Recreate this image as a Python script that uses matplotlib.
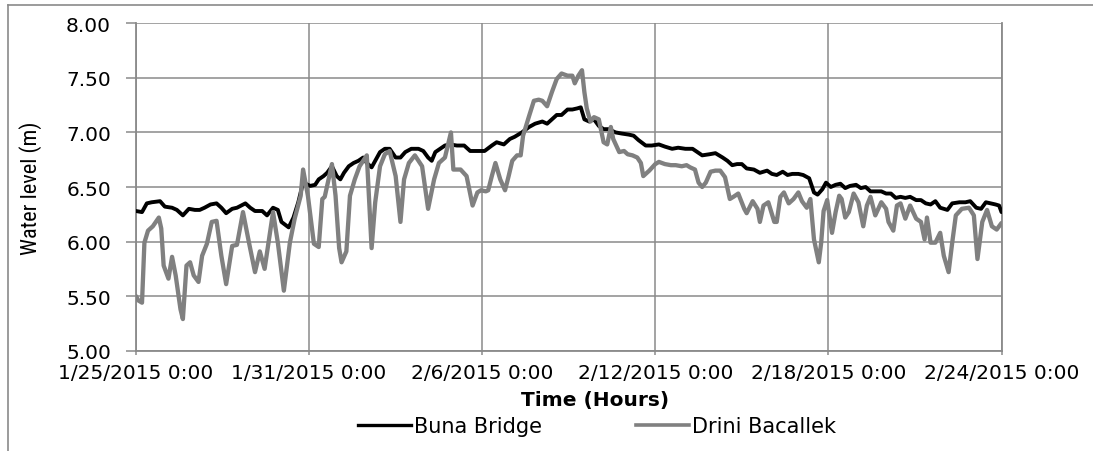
import matplotlib
matplotlib.use("Agg")
import matplotlib.pyplot as plt
from matplotlib.lines import Line2D
from matplotlib import font_manager
import pandas as pd

# ---------------- data ----------------
start_time = "2015-01-25 00:00"

buna_hours = [0, 5, 9, 13, 20, 24, 30, 34, 39, 44, 49, 53, 57, 62, 67, 71, 75, 80, 84, 91,
              95, 99, 105, 109, 114, 118, 121, 127, 131, 135, 139, 145, 149, 152, 156, 159,
              163, 167, 170, 173, 177, 181, 185, 189, 192, 196, 199, 203, 207, 211, 216,
              220, 224, 229, 235, 239, 243, 246, 249, 253, 257, 261, 267, 273, 278, 284,
              290, 296, 300, 306, 311, 315, 321, 327, 332, 338, 342, 346, 350, 354, 359,
              363, 367, 370, 373, 377, 381, 385, 389, 393, 399, 404, 410, 414, 418, 424,
              429, 435, 440, 446, 451, 457, 463, 467, 471, 477, 482, 488, 492, 496, 500,
              504, 508, 514, 519, 525, 529, 533, 538, 542, 546, 551, 555, 560, 564, 567,
              571, 574, 578, 582, 586, 590, 594, 599, 603, 607, 611, 615, 620, 624, 628,
              632, 636, 640, 644, 649, 653, 657, 661, 665, 669, 675, 679, 685, 690, 694,
              699, 703, 707, 711, 715, 718, 720]
buna_level = [6.28, 6.27, 6.35, 6.36, 6.37, 6.32, 6.31, 6.29, 6.24, 6.30, 6.29, 6.29, 6.31,
              6.34, 6.35, 6.31, 6.26, 6.30, 6.31, 6.35, 6.31, 6.28, 6.28, 6.24, 6.31, 6.29,
              6.18, 6.13, 6.22, 6.36, 6.54, 6.51, 6.52, 6.57, 6.60, 6.63, 6.69, 6.60, 6.57,
              6.63, 6.69, 6.72, 6.74, 6.77, 6.72, 6.68, 6.74, 6.82, 6.85, 6.85, 6.77, 6.77,
              6.82, 6.85, 6.85, 6.83, 6.77, 6.74, 6.82, 6.85, 6.88, 6.89, 6.88, 6.88, 6.83,
              6.83, 6.83, 6.88, 6.91, 6.89, 6.94, 6.96, 7.00, 7.05, 7.08, 7.10, 7.08, 7.12,
              7.16, 7.16, 7.21, 7.21, 7.22, 7.23, 7.12, 7.10, 7.12, 7.06, 7.03, 7.03, 7.00,
              6.99, 6.98, 6.97, 6.93, 6.88, 6.88, 6.89, 6.87, 6.85, 6.86, 6.85, 6.85, 6.82,
              6.79, 6.80, 6.81, 6.77, 6.74, 6.70, 6.71, 6.71, 6.67, 6.66, 6.63, 6.65, 6.62,
              6.61, 6.64, 6.61, 6.62, 6.62, 6.61, 6.58, 6.45, 6.43, 6.48, 6.54, 6.50, 6.52,
              6.53, 6.49, 6.51, 6.52, 6.49, 6.50, 6.46, 6.46, 6.46, 6.44, 6.44, 6.40, 6.41,
              6.40, 6.41, 6.38, 6.38, 6.35, 6.34, 6.37, 6.31, 6.29, 6.35, 6.36, 6.36, 6.37,
              6.31, 6.30, 6.36, 6.35, 6.34, 6.33, 6.27]

drini_hours = [0, 2, 5, 7, 10, 14, 19, 21, 23, 27, 30, 33, 37, 39, 42, 45, 48, 52, 55, 59,
               63, 67, 71, 75, 80, 84, 89, 94, 99, 103, 107, 112, 114, 118, 123, 128, 132,
               137, 139, 143, 148, 152, 155, 157, 163, 166, 169, 171, 175, 178, 182, 186,
               192, 196, 199, 203, 207, 211, 216, 220, 223, 227, 232, 238, 243, 248, 252,
               257, 262, 264, 270, 275, 280, 284, 287, 291, 293, 296, 299, 303, 307, 310,
               313, 317, 320, 322, 327, 331, 335, 338, 342, 346, 350, 354, 359, 363, 365,
               368, 371, 373, 375, 378, 381, 385, 389, 392, 395, 397, 402, 406, 409, 413,
               417, 420, 422, 427, 432, 435, 440, 445, 449, 454, 458, 461, 465, 468, 471,
               474, 478, 482, 486, 490, 494, 497, 501, 506, 508, 513, 517, 519, 522, 526,
               531, 533, 536, 539, 543, 547, 551, 554, 558, 561, 564, 568, 570, 572, 575,
               579, 582, 585, 587, 590, 593, 597, 601, 605, 608, 611, 615, 620, 624, 626,
               630, 633, 636, 640, 644, 649, 653, 656, 658, 661, 665, 669, 672, 676, 679,
               682, 687, 693, 697, 700, 704, 708, 712, 716, 720]
drini_level = [5.50, 5.46, 5.44, 5.99, 6.10, 6.14, 6.22, 6.12, 5.78, 5.66, 5.86, 5.69, 5.38,
               5.29, 5.78, 5.81, 5.69, 5.63, 5.87, 5.98, 6.18, 6.19, 5.87, 5.61, 5.96, 5.97,
               6.27, 5.99, 5.72, 5.91, 5.75, 6.12, 6.27, 5.99, 5.55, 5.99, 6.21, 6.42, 6.66,
               6.42, 5.98, 5.95, 6.39, 6.41, 6.71, 6.42, 5.94, 5.81, 5.91, 6.42, 6.57, 6.69,
               6.79, 5.94, 6.36, 6.69, 6.80, 6.83, 6.60, 6.18, 6.57, 6.72, 6.79, 6.69, 6.30,
               6.57, 6.72, 6.77, 7.00, 6.66, 6.66, 6.60, 6.33, 6.45, 6.47, 6.46, 6.47, 6.60,
               6.72, 6.57, 6.47, 6.60, 6.74, 6.79, 6.79, 6.97, 7.15, 7.29, 7.30, 7.29, 7.24,
               7.37, 7.49, 7.54, 7.52, 7.52, 7.45, 7.52, 7.57, 7.37, 7.22, 7.10, 7.14, 7.12,
               6.91, 6.89, 7.05, 6.94, 6.82, 6.83, 6.80, 6.79, 6.77, 6.72, 6.60, 6.65, 6.71,
               6.73, 6.71, 6.70, 6.70, 6.69, 6.70, 6.68, 6.66, 6.54, 6.50, 6.54, 6.64, 6.65,
               6.65, 6.59, 6.39, 6.41, 6.44, 6.30, 6.26, 6.37, 6.30, 6.18, 6.33, 6.36, 6.18,
               6.18, 6.41, 6.45, 6.35, 6.39, 6.45, 6.37, 6.31, 6.39, 6.02, 5.81, 5.99, 6.28,
               6.38, 6.08, 6.27, 6.42, 6.39, 6.22, 6.27, 6.44, 6.36, 6.14, 6.33, 6.41, 6.24,
               6.36, 6.30, 6.18, 6.10, 6.33, 6.35, 6.21, 6.33, 6.21, 6.18, 6.02, 6.22, 5.99,
               5.99, 6.08, 5.87, 5.72, 5.99, 6.24, 6.30, 6.31, 6.24, 5.84, 6.18, 6.29, 6.14,
               6.11, 6.17]

series_names = ["Buna Bridge", "Drini Bacallek"]
x_tick_dates = ["2015-01-25", "2015-01-31", "2015-02-06", "2015-02-12", "2015-02-18", "2015-02-24"]
x_tick_labels = ["1/25/2015 0:00", "1/31/2015 0:00", "2/6/2015 0:00",
                 "2/12/2015 0:00", "2/18/2015 0:00", "2/24/2015 0:00"]
y_ticks = [5.00, 5.50, 6.00, 6.50, 7.00, 7.50, 8.00]
x_title = "Time (Hours)"
y_title = "Water level (m)"

# ---------------- figure ----------------
W, H = 1093, 452
fig = plt.figure(figsize=(W / 100, H / 100), dpi=100)
fig.patch.set_facecolor("white")

L, R, T, B = 136, 1001.5, 24.3, 351.7
ax = fig.add_axes([L / W, 1 - B / H, (R - L) / W, (B - T) / H])

t0 = pd.Timestamp(start_time)
buna_t = t0 + pd.to_timedelta(buna_hours, unit="h")
drini_t = t0 + pd.to_timedelta(drini_hours, unit="h")

grid_col = "#8a8a8a"
ax.plot(buna_t, buna_level, color="black", lw=2.8, solid_joinstyle="round",
        solid_capstyle="round", zorder=3, label=series_names[0])
ax.plot(drini_t, drini_level, color="#808080", lw=3.1, solid_joinstyle="round",
        solid_capstyle="round", zorder=4, label=series_names[1])

ax.set_xlim(pd.Timestamp(x_tick_dates[0]), pd.Timestamp(x_tick_dates[-1]))
ax.set_ylim(y_ticks[0], y_ticks[-1])
ax.set_xticks([pd.Timestamp(d) for d in x_tick_dates])
ax.set_xticklabels(x_tick_labels)
ax.set_yticks(y_ticks)
ax.set_yticklabels([f"{v:.2f}" for v in y_ticks])

ax.grid(True, color=grid_col, lw=1.1)
ax.set_axisbelow(True)
ax.spines["top"].set_visible(False)
for s in ["left", "bottom", "right"]:
    ax.spines[s].set_color(grid_col)
    ax.spines[s].set_linewidth(1.3)

ax.tick_params(axis="y", length=7, width=1.1, color=grid_col, pad=11, labelsize=14.5)
ax.tick_params(axis="x", length=3, width=1.1, color=grid_col, pad=6, labelsize=14.5)
for lab in ax.get_xticklabels() + ax.get_yticklabels():
    lab.set_family("DejaVu Sans")


def pick(fams):
    for f in fams:
        try:
            font_manager.findfont(f, fallback_to_default=False)
            return f
        except Exception:
            pass
    return "DejaVu Sans"


narrow = pick(["Liberation Sans Narrow", "DejaVu Sans Condensed", "Roboto Condensed", "Liberation Sans"])
fig.text(31 / W, 1 - 188 / H, y_title, rotation=90, ha="center", va="center",
         family=narrow, fontsize=16)

fig.text(595 / W, 1 - 401 / H, x_title, ha="center", va="center",
         family="DejaVu Sans", fontweight="bold", fontsize=14.5)

handles = [Line2D([], [], color="black", lw=2.4), Line2D([], [], color="#808080", lw=2.6)]
fig.legend(handles, series_names, loc="center", bbox_to_anchor=(597 / W, 1 - 427 / H),
           ncol=2, frameon=False, prop=dict(family="DejaVu Sans", size=15),
           handlelength=2.55, handletextpad=0.15, columnspacing=4.5, borderpad=0)

# chart-area border (top and left edges visible in the crop)
fig.add_artist(Line2D([8 / W, 1.0], [1 - 6 / H, 1 - 6 / H], transform=fig.transFigure,
                      color=grid_col, lw=1.2))
fig.add_artist(Line2D([8 / W, 8 / W], [1 - 6 / H, 0.0], transform=fig.transFigure,
                      color=grid_col, lw=1.2))

fig.savefig("out.png", dpi=100, facecolor="white")
